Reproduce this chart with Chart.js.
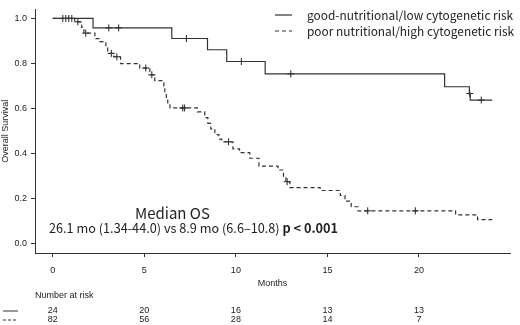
<!DOCTYPE html>
<html>
<head>
<meta charset="utf-8">
<script src="https://cdn.jsdelivr.net/npm/chart.js@4.4.1/dist/chart.umd.min.js"></script>
<style>
  html, body { margin: 0; padding: 0; background: #fff; }
  .km-wrap { width: 520px; height: 325px; }
</style>
</head>
<body>
<div class="km-wrap"><canvas class="km-chart"></canvas></div>
<script>
// series names
const seriesNames = ["good-nutritional/low cytogenetic risk", "poor nutritional/high cytogenetic risk"];

// good group: event times (months) and survival after each step
const goodTimes = [0, 2.2, 6.5, 8.45, 9.5, 11.6, 21.4, 22.75, 22.8, 24.0];
const goodSurv = [1.0, 0.958, 0.911, 0.861, 0.809, 0.754, 0.697, 0.667, 0.638, 0.638];
const goodCensored = [3.06, 3.6, 7.3, 10.3, 13.0, 22.77, 23.4];

// poor group
const poorTimes = [0, 1.2, 1.58, 1.7, 2.3, 2.57, 2.9, 3.0, 3.33, 3.7, 4.75, 5.3, 5.57, 6.07, 6.12, 6.2, 6.28, 6.4,
  7.9, 8.3, 8.47, 8.63, 8.85, 9.07, 9.23, 9.84, 10.2, 10.76, 11.26, 12.3, 12.6, 12.73, 12.95,
  14.6, 15.7, 15.96, 16.3, 16.67, 22.0, 23.2, 24.0];
const poorSurv = [1.0, 0.985, 0.96, 0.935, 0.91, 0.897, 0.87, 0.845, 0.83, 0.80, 0.78, 0.75, 0.724, 0.70, 0.67, 0.645, 0.62, 0.603,
  0.586, 0.56, 0.535, 0.51, 0.485, 0.465, 0.453, 0.422, 0.405, 0.38, 0.345, 0.328, 0.30, 0.276, 0.25,
  0.237, 0.215, 0.19, 0.165, 0.147, 0.129, 0.108, 0.108];
const poorCensored = [0.55, 0.71, 0.87, 1.04, 1.37, 1.8, 3.2, 3.5, 5.08, 5.41, 7.1, 7.2, 9.6, 12.8, 17.2, 19.8];

// axes
const xTicks = [0, 5, 10, 15, 20];
const yTicks = [0, 0.2, 0.4, 0.6, 0.8, 1.0];

// number at risk
const riskGood = [24, 20, 16, 13, 13];
const riskPoor = [82, 56, 28, 14, 7];

const medianTitle = "Median OS";
const medianText = "26.1 mo (1.34-44.0) vs 8.9 mo (6.6\u201310.8) ";
const pText = "p < 0.001";

const ink = "#333";
const jpFont = "'Noto Sans CJK JP', 'Noto Sans', sans-serif";
const axFont = "'Liberation Sans', Arial, sans-serif";

function toPoints(times, surv) {
  return times.map((t, i) => ({ x: t, y: surv[i] }));
}

function survAt(times, surv, t) {
  let s = surv[0];
  for (let i = 0; i < times.length; i++) {
    if (times[i] <= t) s = surv[i];
  }
  return s;
}

function censorPoints(cens, times, surv) {
  return cens.map(t => ({ x: t, y: survAt(times, surv, t) }));
}

// legend, median text and risk table
const extras = {
  id: "extras",
  afterDraw(chart) {
    const c = chart.ctx;
    const xs = chart.scales.x;
    c.save();
    c.strokeStyle = ink;
    c.lineWidth = 1.2;
    c.fillStyle = "#222";

    // legend
    c.beginPath(); c.moveTo(275, 15); c.lineTo(292, 15); c.stroke();
    c.setLineDash([4, 3]);
    c.beginPath(); c.moveTo(275, 31); c.lineTo(292, 31); c.stroke();
    c.setLineDash([]);
    c.font = "11.9px " + jpFont;
    c.textBaseline = "middle";
    c.textAlign = "left";
    c.fillText(seriesNames[0], 307, 15);
    c.fillText(seriesNames[1], 307, 31);

    // median OS
    c.font = "15px " + jpFont;
    c.fillText(medianTitle, 135, 213);
    c.font = "12.7px " + jpFont;
    c.fillText(medianText, 49, 228);
    const w = c.measureText(medianText).width;
    c.font = "bold 12.7px " + jpFont;
    c.fillText(pText, 49 + w, 228);

    // number at risk
    c.font = "9px " + axFont;
    c.fillText("Number at risk", 35, 296);
    c.textAlign = "center";
    xTicks.forEach((t, i) => {
      const px = xs.getPixelForValue(t);
      c.fillText(String(riskGood[i]), px, 311);
      c.fillText(String(riskPoor[i]), px, 320);
    });
    c.lineWidth = 1;
    c.beginPath(); c.moveTo(3, 311); c.lineTo(18, 311); c.stroke();
    c.setLineDash([3, 2]);
    c.beginPath(); c.moveTo(3, 320); c.lineTo(18, 320); c.stroke();
    c.restore();
  }
};

const ctx = document.querySelector(".km-chart");

new Chart(ctx, {
  type: "line",
  data: {
    datasets: [
      {
        label: seriesNames[0],
        data: toPoints(goodTimes, goodSurv),
        stepped: "before",
        borderColor: ink,
        borderWidth: 1.2,
        pointRadius: 0,
        fill: false
      },
      {
        label: seriesNames[1],
        data: toPoints(poorTimes, poorSurv),
        stepped: "before",
        borderColor: ink,
        borderWidth: 1.2,
        borderDash: [4, 3],
        pointRadius: 0,
        fill: false
      },
      {
        type: "scatter",
        data: censorPoints(goodCensored, goodTimes, goodSurv),
        pointStyle: "cross",
        pointRadius: 3.5,
        borderColor: "#222",
        borderWidth: 1
      },
      {
        type: "scatter",
        data: censorPoints(poorCensored, poorTimes, poorSurv),
        pointStyle: "cross",
        pointRadius: 3.5,
        borderColor: "#222",
        borderWidth: 1
      }
    ]
  },
  options: {
    maintainAspectRatio: false,
    animation: false,
    layout: { padding: { top: 2, right: 10, bottom: 36, left: 0 } },
    plugins: { legend: { display: false }, tooltip: { enabled: false } },
    scales: {
      x: {
        type: "linear",
        min: -0.97,
        max: 24.97,
        afterBuildTicks: s => { s.ticks = xTicks.map(v => ({ value: v })); },
        afterFit: s => { s.height = 36; },
        grid: { drawOnChartArea: false, tickLength: 4, color: ink },
        border: { color: ink, width: 1 },
        ticks: { padding: 8, color: "#222", font: { family: axFont, size: 9 }, maxRotation: 0, autoSkip: false },
        title: { display: true, text: "Months", color: "#222", font: { family: axFont, size: 9 }, padding: 0 }
      },
      y: {
        min: -0.04,
        max: 1.04,
        afterBuildTicks: s => { s.ticks = yTicks.map(v => ({ value: v })); },
        afterFit: s => { s.width = 35; },
        grid: { drawOnChartArea: false, tickLength: 4, color: ink },
        border: { color: ink, width: 1 },
        ticks: { padding: 4, color: "#222", font: { family: axFont, size: 9 }, callback: v => v.toFixed(1) },
        title: { display: true, text: "Overall Survival", color: "#222", font: { family: axFont, size: 9 }, padding: 0 }
      }
    }
  },
  plugins: [extras]
});
</script>
</body>
</html>
